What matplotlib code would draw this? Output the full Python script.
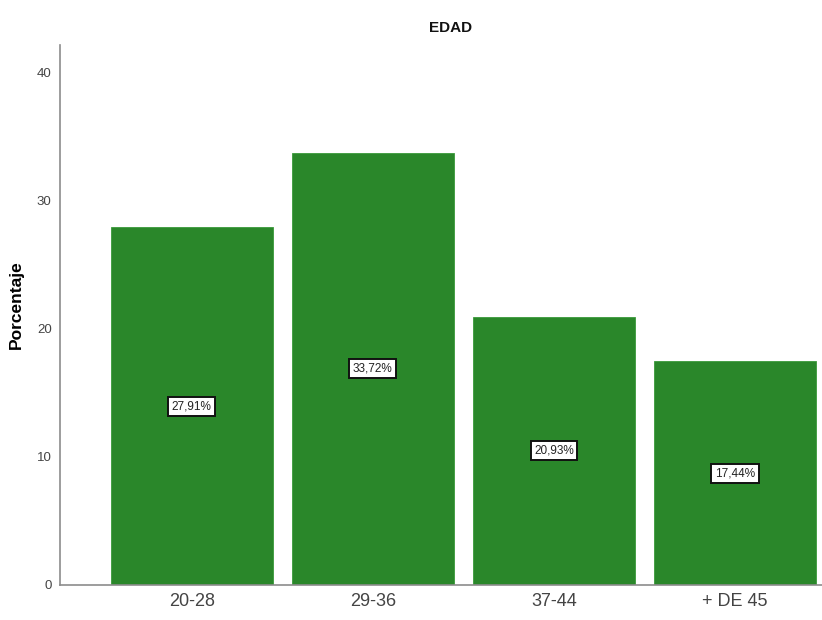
import matplotlib.pyplot as plt

plt.rcParams['font.family'] = ['Liberation Sans', 'DejaVu Sans']

categories = ['20-28', '29-36', '37-44', '+ DE 45']
percentages = [27.91, 33.72, 20.93, 17.44]
bar_labels = ['27,91%', '33,72%', '20,93%', '17,44%']
y_ticks = [0, 10, 20, 30, 40]

bar_color = '#2a872a'
axis_color = '#8c8c8c'

fig = plt.figure(figsize=(8.22, 6.2), dpi=100)
ax = fig.add_axes([0.073, 0.0565, 0.927, 0.8705])

x = list(range(len(categories)))
bars = ax.bar(x, percentages, width=0.895, color=bar_color, edgecolor='#3a9a3a', linewidth=0.6)

# value boxes in the middle of each bar
for xi, val, lab in zip(x, percentages, bar_labels):
    ax.text(xi, val / 2, lab, ha='center', va='center', fontsize=8.5, color='#222222',
            bbox=dict(boxstyle='square,pad=0.3', facecolor='white', edgecolor='#111111', linewidth=1.4))

ax.set_xlim(-0.727, 3.48)
ax.set_ylim(0, 42.1)
ax.set_xticks(x)
ax.set_xticklabels(categories, fontsize=13, color='#444444')
ax.set_yticks(y_ticks)
ax.set_yticklabels([str(t) for t in y_ticks], fontsize=9.5, color='#444444')
ax.tick_params(axis='both', length=0)
ax.tick_params(axis='x', pad=6)
ax.tick_params(axis='y', pad=6)

for side in ['top', 'right']:
    ax.spines[side].set_visible(False)
for side in ['left', 'bottom']:
    ax.spines[side].set_color(axis_color)
    ax.spines[side].set_linewidth(1.2)

ax.set_ylabel('Porcentaje', fontsize=12.5, fontweight='bold')
ax.yaxis.set_label_coords(-0.047, 0.52)
fig.text(0.548, 0.955, 'EDAD', ha='center', va='center', fontsize=11, fontweight='bold', color='#111111')

fig.savefig('out.png', dpi=100)
